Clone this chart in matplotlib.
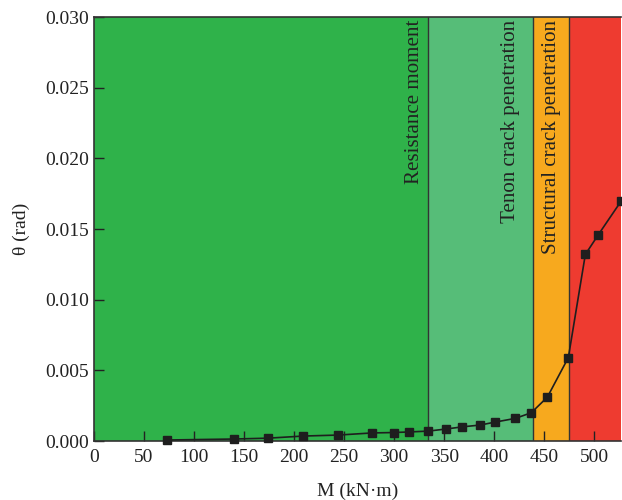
import matplotlib
matplotlib.use("Agg")
import matplotlib.pyplot as plt

# Data
M = [73, 140, 174, 209, 244, 278, 300, 315, 334, 352, 368, 386, 401, 421, 437, 453, 474, 491, 504, 527]
theta = [0.00007, 0.00014, 0.0002, 0.00035, 0.00042, 0.00057, 0.0006, 0.00064, 0.0007, 0.00085,
         0.001, 0.00113, 0.00134, 0.0016, 0.002, 0.0031, 0.0059, 0.0132, 0.0146, 0.0170]

zone_edges = [0, 334, 439, 475, 527]
zone_colors = ["#2fb24a", "#56bd78", "#f7a91e", "#ee3b30"]
zone_labels = ["Resistance moment", "Tenon crack penetration", "Structural crack penetration"]
label_x = [320, 416, 457]

xticks = [0, 50, 100, 150, 200, 250, 300, 350, 400, 450, 500]
yticks = [0.000, 0.005, 0.010, 0.015, 0.020, 0.025, 0.030]

plt.rcParams['font.family'] = ['Liberation Serif', 'DejaVu Serif']

fig = plt.figure(figsize=(6.22, 5.0), dpi=100)
ax = fig.add_axes([0.151, 0.118, 0.848, 0.848])

for i in range(len(zone_colors)):
    ax.axvspan(zone_edges[i], zone_edges[i + 1], color=zone_colors[i], lw=0, zorder=0)
for e in zone_edges[1:-1]:
    ax.axvline(e, color="#333333", lw=1.0, zorder=1)

for lab, xv in zip(zone_labels, label_x):
    ax.text(xv, 0.0298, lab, rotation=90, ha="center", va="top", fontsize=15.1,
            color="#222222", zorder=3)

ax.plot(M, theta, color="#1e1e1e", lw=1.2, marker="s", markersize=6, zorder=4, clip_on=False)

ax.set_xlim(0, 527)
ax.set_ylim(0, 0.030)
ax.set_xticks(xticks)
ax.set_yticks(yticks)
ax.set_yticklabels([f"{v:.3f}" for v in yticks])
ax.tick_params(direction="in", length=7, width=1, labelsize=14, colors="#222222",
               top=False, right=False)
ax.tick_params(axis="x", pad=6)
for s in ["left", "bottom", "top"]:
    ax.spines[s].set_color("#333333")
    ax.spines[s].set_linewidth(1.2)
ax.spines["right"].set_visible(False)

ax.set_xlabel("M (kN·m)", fontsize=14, color="#222222", labelpad=12)
ax.set_ylabel("θ (rad)", fontsize=14, color="#222222", labelpad=11)

fig.savefig("out.png", dpi=100)
